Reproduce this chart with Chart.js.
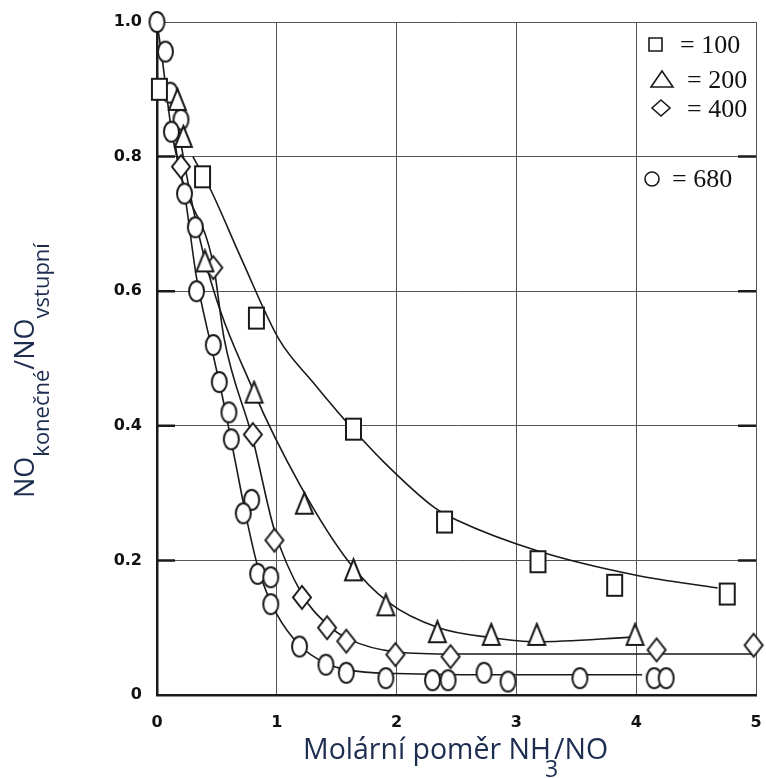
<!DOCTYPE html>
<html>
<head>
<meta charset="utf-8">
<script src="https://cdn.jsdelivr.net/npm/chart.js@4.4.1/dist/chart.umd.min.js"></script>
<style>
  html, body { margin: 0; padding: 0; background: #fff; }
</style>
</head>
<body>
<canvas id="chart" width="766" height="778"></canvas>
<script>
// legend values
const seriesLabels = ['100', '200', '400', '680'];

// tick labels
const xTicks = [0, 1, 2, 3, 4, 5];
const yTicks = [0, 0.2, 0.4, 0.6, 0.8, 1.0];

// measured points: molar ratio NH3/NO vs NO out / NO in
const x100 = [0.02, 0.38, 0.83, 1.64, 2.40, 3.18, 3.82, 4.76];
const y100 = [0.90, 0.77, 0.56, 0.395, 0.257, 0.198, 0.163, 0.15];

const x200 = [0.17, 0.22, 0.40, 0.81, 1.23, 1.64, 1.91, 2.34, 2.79, 3.17, 3.99];
const y200 = [0.885, 0.83, 0.645, 0.45, 0.285, 0.186, 0.134, 0.094, 0.09, 0.09, 0.09];

const x400 = [0.20, 0.47, 0.80, 0.98, 1.21, 1.42, 1.58, 1.99, 2.45, 4.17, 4.98];
const y400 = [0.785, 0.635, 0.387, 0.23, 0.145, 0.10, 0.08, 0.06, 0.057, 0.067, 0.074];

const x680 = [0, 0.07, 0.11, 0.20, 0.12, 0.23, 0.32, 0.33, 0.47, 0.52, 0.60, 0.62, 0.79, 0.72,
  0.84, 0.95, 0.95, 1.19, 1.41, 1.58, 1.91, 2.30, 2.43, 2.73, 2.93, 3.53, 4.15, 4.25];
const y680 = [1.0, 0.956, 0.895, 0.855, 0.837, 0.745, 0.695, 0.60, 0.52, 0.465, 0.42, 0.38, 0.29, 0.27,
  0.18, 0.175, 0.135, 0.072, 0.045, 0.033, 0.025, 0.022, 0.022, 0.033, 0.02, 0.025, 0.025, 0.025];

// hand drawn curves
const curveX100 = [0.30, 0.45, 0.70, 1.02, 1.30, 1.58, 1.90, 2.32, 2.50, 3.18, 4.00, 4.68];
const curveY100 = [0.80, 0.75, 0.65, 0.528, 0.465, 0.406, 0.345, 0.278, 0.26, 0.214, 0.178, 0.159];

const curveX200 = [0.15, 0.19, 0.41, 0.81, 1.20, 1.60, 1.93, 2.35, 2.80, 3.16, 3.98];
const curveY200 = [0.88, 0.83, 0.64, 0.45, 0.31, 0.198, 0.138, 0.10, 0.085, 0.079, 0.086];

const curveX400 = [0.15, 0.19, 0.47, 0.56, 0.80, 0.98, 1.21, 1.42, 1.60, 2.00, 2.50, 5.00];
const curveY400 = [0.82, 0.78, 0.64, 0.53, 0.38, 0.245, 0.15, 0.105, 0.083, 0.064, 0.061, 0.061];

const curveX680 = [0, 0.04, 0.12, 0.23, 0.33, 0.45, 0.55, 0.65, 0.75, 0.85, 1.00, 1.20, 1.40, 1.60, 2.00, 3.00, 4.05];
const curveY680 = [1.0, 0.95, 0.84, 0.745, 0.62, 0.52, 0.44, 0.35, 0.26, 0.185, 0.12, 0.072, 0.048, 0.037, 0.032, 0.03, 0.03];

const ink = '#1a1a1a';
const titleColor = '#1d2d50';

function pts(xs, ys) {
  return xs.map((x, i) => ({ x: x, y: ys[i] }));
}

// markers in the scan are a bit taller than wide
function marker(w, h, draw) {
  const c = document.createElement('canvas');
  c.width = w + 4;
  c.height = h + 4;
  const g = c.getContext('2d');
  g.translate(2, 2);
  g.lineWidth = 2;
  g.strokeStyle = ink;
  g.fillStyle = '#fff';
  g.beginPath();
  draw(g, w, h);
  g.closePath();
  g.fill();
  g.stroke();
  return c;
}
const squareImg = marker(15, 21, (g, w, h) => g.rect(0, 0, w, h));
const triangleImg = marker(17, 21, (g, w, h) => { g.moveTo(w / 2, 0); g.lineTo(w, h); g.lineTo(0, h); });
const diamondImg = marker(18, 23, (g, w, h) => { g.moveTo(w / 2, 0); g.lineTo(w, h / 2); g.lineTo(w / 2, h); g.lineTo(0, h / 2); });
const circleImg = marker(15, 20, (g, w, h) => g.ellipse(w / 2, h / 2, w / 2, h / 2, 0, 0, Math.PI * 2));

function markerSet(label, xs, ys, img) {
  return {
    label: label,
    data: pts(xs, ys),
    pointStyle: img,
    pointRadius: 9,
    showLine: false,
    clip: false
  };
}

function curveSet(xs, ys) {
  return {
    label: '',
    data: pts(xs, ys),
    showLine: true,
    pointRadius: 0,
    borderColor: ink,
    borderWidth: 1.6,
    cubicInterpolationMode: 'monotone'
  };
}

const xTitleFont = '28.5px "Open Sans"';
const xSubFont = '23px "Open Sans"';
const mainFont = '27px "Open Sans"';
const subFont = '22px "Open Sans"';

const decorPlugin = {
  id: 'decor',
  afterDraw(chart) {
    const ctx = chart.ctx;
    const area = chart.chartArea;
    const ys = chart.scales.y;
    ctx.save();

    // short heavy ticks on both sides
    ctx.strokeStyle = ink;
    ctx.lineWidth = 2.5;
    yTicks.slice(1, -1).forEach(v => {
      const py = ys.getPixelForValue(v);
      ctx.beginPath();
      ctx.moveTo(area.left, py);
      ctx.lineTo(area.left + 18, py);
      ctx.moveTo(area.right - 18, py);
      ctx.lineTo(area.right, py);
      ctx.stroke();
    });

    // x title with subscript 3
    ctx.fillStyle = titleColor;
    ctx.textBaseline = 'alphabetic';
    ctx.textAlign = 'left';
    let x = 303;
    ctx.font = xTitleFont;
    ctx.fillText('Molární poměr NH', x, 759);
    x += ctx.measureText('Molární poměr NH').width;
    ctx.font = xSubFont;
    ctx.fillText('3', x - 6, 777);
    ctx.font = xTitleFont;
    ctx.fillText('/NO', x + 3, 759);

    // y title, rotated, subscripts shifted right
    ctx.save();
    ctx.translate(34, 498);
    ctx.rotate(-Math.PI / 2);
    let u = 0;
    ctx.font = mainFont;
    ctx.fillText('NO', u, 0);
    u += ctx.measureText('NO').width;
    ctx.font = subFont;
    ctx.fillText('konečné', u, 15);
    u += ctx.measureText('konečné').width;
    ctx.font = mainFont;
    ctx.fillText('/NO', u, 0);
    u += ctx.measureText('/NO').width;
    ctx.font = subFont;
    ctx.fillText('vstupní', u, 15);
    ctx.restore();

    // legend in the top right cell
    ctx.strokeStyle = ink;
    ctx.lineWidth = 1.6;
    ctx.beginPath();
    ctx.rect(649, 38, 13, 13);
    ctx.stroke();
    ctx.beginPath();
    ctx.moveTo(662, 71); ctx.lineTo(673, 87); ctx.lineTo(651, 87); ctx.closePath();
    ctx.stroke();
    ctx.beginPath();
    ctx.moveTo(661, 100); ctx.lineTo(670, 108); ctx.lineTo(661, 116); ctx.lineTo(652, 108); ctx.closePath();
    ctx.stroke();
    ctx.beginPath();
    ctx.arc(652, 179, 7, 0, Math.PI * 2);
    ctx.stroke();

    ctx.fillStyle = '#111';
    ctx.font = '26px "Liberation Serif"';
    ctx.fillText('= ' + seriesLabels[0], 680, 53);
    ctx.fillText('= ' + seriesLabels[1], 687, 88);
    ctx.fillText('= ' + seriesLabels[2], 687, 117);
    ctx.fillText('= ' + seriesLabels[3], 672, 187);
    ctx.restore();
  }
};

new Chart(document.getElementById('chart'), {
  type: 'scatter',
  data: {
    datasets: [
      markerSet(seriesLabels[0], x100, y100, squareImg),
      markerSet(seriesLabels[1], x200, y200, triangleImg),
      markerSet(seriesLabels[2], x400, y400, diamondImg),
      markerSet(seriesLabels[3], x680, y680, circleImg),
      curveSet(curveX100, curveY100),
      curveSet(curveX200, curveY200),
      curveSet(curveX400, curveY400),
      curveSet(curveX680, curveY680)
    ]
  },
  options: {
    responsive: false,
    animation: false,
    devicePixelRatio: 1,
    layout: { padding: { top: 22, right: 6, left: 0, bottom: 0 } },
    plugins: {
      legend: { display: false },
      tooltip: { enabled: false }
    },
    scales: {
      x: {
        type: 'linear',
        min: 0,
        max: 5,
        afterBuildTicks: s => { s.ticks = xTicks.map(v => ({ value: v })); },
        afterFit: s => { s.height = 83; s.paddingLeft = 0; s.paddingRight = 0; },
        ticks: {
          padding: 18,
          color: '#111',
          font: { family: 'DejaVu Sans', weight: 'bold', size: 16 },
          callback: v => String(v)
        },
        grid: { color: '#555', lineWidth: 1, drawTicks: false },
        border: { color: ink, width: 2.5 }
      },
      y: {
        type: 'linear',
        min: 0,
        max: 1,
        afterBuildTicks: s => { s.ticks = yTicks.map(v => ({ value: v })); },
        afterFit: s => { s.width = 157; s.paddingTop = 0; s.paddingBottom = 0; },
        ticks: {
          padding: 15,
          color: '#111',
          font: { family: 'DejaVu Sans', weight: 'bold', size: 16 },
          callback: v => (v === 0 ? '0' : v.toFixed(1))
        },
        grid: { color: '#555', lineWidth: 1, drawTicks: false },
        border: { color: ink, width: 2.5 }
      }
    }
  },
  plugins: [decorPlugin]
});
</script>
</body>
</html>
